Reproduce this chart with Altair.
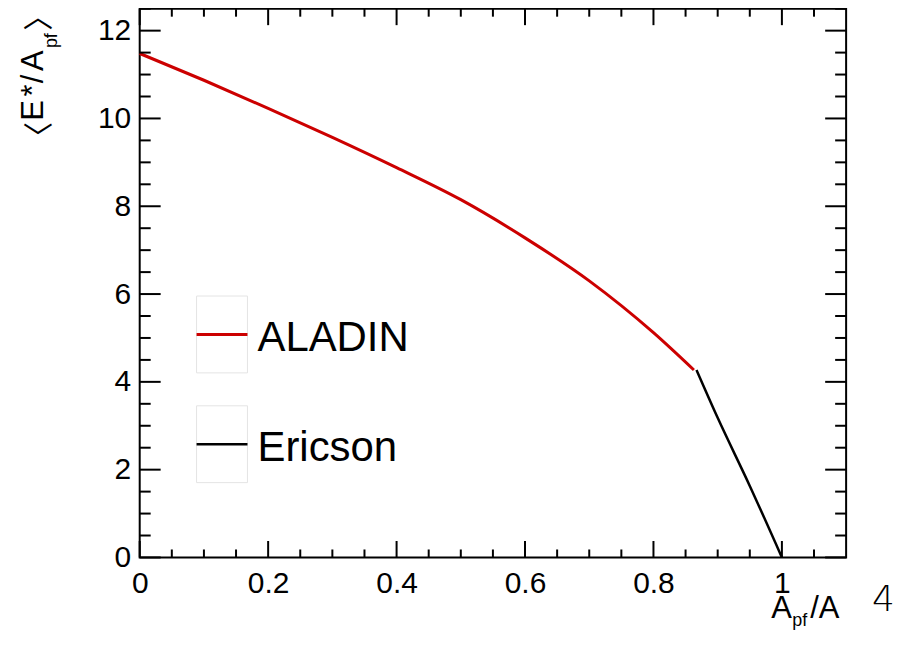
import altair as alt
import pandas as pd

# ---------------- data ----------------
aladin_x = [0.0, 0.1, 0.2, 0.3, 0.4, 0.5, 0.6, 0.7, 0.8, 0.863]
aladin_y = [11.48, 10.87, 10.23, 9.57, 8.88, 8.15, 7.28, 6.30, 5.12, 4.27]

ericson_x = [0.867, 0.9, 0.95, 1.0]
ericson_y = [4.27, 3.18, 1.63, 0.0]

x_major = [0.0, 0.2, 0.4, 0.6, 0.8, 1.0]
x_minor = [0.05, 0.1, 0.15, 0.25, 0.3, 0.35, 0.45, 0.5, 0.55, 0.65, 0.7, 0.75,
           0.85, 0.9, 0.95, 1.05]
y_major = [0, 2, 4, 6, 8, 10, 12]
y_minor = [0.5, 1, 1.5, 2.5, 3, 3.5, 4.5, 5, 5.5, 6.5, 7, 7.5, 8.5, 9, 9.5,
           10.5, 11, 11.5, 12.5]

series_names = ["ALADIN", "Ericson"]
series_colors = ["#cc0000", "#000000"]

# ---------------- layout ----------------
W, H = 708, 550
FONT = "Liberation Sans"

xscale = alt.Scale(domain=[0, 1.1], nice=False, zero=False)
yscale = alt.Scale(domain=[0, 12.5], nice=False, zero=False)

xaxis = alt.Axis(values=x_major, format="~g", title=None, ticks=False, domain=False,
                 grid=False, labelFont=FONT, labelFontSize=30, labelColor="black",
                 labelPadding=11, labelFlush=False)
yaxis = alt.Axis(values=y_major, format="~g", title=None, ticks=False, domain=False,
                 grid=False, labelFont=FONT, labelFontSize=30, labelColor="black",
                 labelPadding=9, labelFlush=False)

aladin_df = pd.DataFrame({"x": aladin_x, "y": aladin_y})
ericson_df = pd.DataFrame({"x": ericson_x, "y": ericson_y})

aladin = alt.Chart(aladin_df).mark_line(
    color=series_colors[0], strokeWidth=3, interpolate="monotone"
).encode(
    x=alt.X("x:Q", scale=xscale, axis=xaxis),
    y=alt.Y("y:Q", scale=yscale, axis=yaxis),
)

ericson = alt.Chart(ericson_df).mark_line(
    color=series_colors[1], strokeWidth=2.5, interpolate="monotone"
).encode(
    x=alt.X("x:Q", scale=xscale, axis=xaxis),
    y=alt.Y("y:Q", scale=yscale, axis=yaxis),
)

layers = [aladin, ericson]


def xticks(vals, length, top):
    c = alt.Chart(pd.DataFrame({"x": vals})).mark_rule(color="black", strokeWidth=2)
    if top:
        return c.encode(x=alt.X("x:Q", scale=xscale, axis=xaxis),
                        y=alt.value(0), y2=alt.value(length))
    return c.encode(x=alt.X("x:Q", scale=xscale, axis=xaxis),
                    y=alt.value(H), y2=alt.value(H - length))


def yticks(vals, length, right):
    c = alt.Chart(pd.DataFrame({"y": vals})).mark_rule(color="black", strokeWidth=2)
    if right:
        return c.encode(y=alt.Y("y:Q", scale=yscale, axis=yaxis),
                        x=alt.value(W), x2=alt.value(W - length))
    return c.encode(y=alt.Y("y:Q", scale=yscale, axis=yaxis),
                    x=alt.value(0), x2=alt.value(length))


for top in (False, True):
    layers.append(xticks(x_major, 16.5, top))
    layers.append(xticks(x_minor, 8, top))
for right in (False, True):
    layers.append(yticks(y_major, 21, right))
    layers.append(yticks(y_minor, 11, right))

one = pd.DataFrame({"a": [0]})


def txt(s, x, y, size, angle=0, align="left", font=FONT, weight="normal"):
    kw = dict(text=s, fontSize=size, font=font, align=align,
              baseline="alphabetic", color="black", fontWeight=weight)
    if angle:
        kw["angle"] = angle
    return alt.Chart(one).mark_text(**kw).encode(x=alt.value(x), y=alt.value(y))


# legend
box_y = [288, 398]
for i, (name, col) in enumerate(zip(series_names, series_colors)):
    y0 = box_y[i]
    layers.append(alt.Chart(one).mark_rect(
        fill="white", fillOpacity=0, stroke="#e4e4e4", strokeWidth=1
    ).encode(x=alt.value(57), x2=alt.value(108), y=alt.value(y0), y2=alt.value(y0 + 77)))
    layers.append(alt.Chart(one).mark_rule(
        color=col, strokeWidth=3 if i == 0 else 2.5
    ).encode(x=alt.value(57), x2=alt.value(108), y=alt.value(y0 + 38.5)))
    layers.append(txt(name, 118, y0 + 55, 42))

# y title pieces (rotated)
CJK = "Noto Sans CJK SC"
layers.append(txt("\u3008", -91, 128.5, 30, angle=270, align="center", font=CJK))
layers.append(txt("E", -97, 102, 31, angle=270, align="center"))
layers.append(txt("*", -97, 82, 31, angle=270, align="center"))
layers.append(txt("/", -97, 70.5, 31, angle=270, align="center"))
layers.append(txt("A", -97, 52, 31, angle=270, align="center"))
layers.append(txt("pf", -83, 32, 18, angle=270, align="center"))
layers.append(txt("\u3009", -91, 7, 30, angle=270, align="center", font=CJK))

# x title pieces
layers.append(txt("A", 633, 611, 31))
layers.append(txt("pf", 654, 619, 18))
layers.append(txt("/A", 672, 611, 31))
layers.append(txt("4", 734, 604, 36, font="DejaVu Sans", weight=200))

chart = alt.layer(*layers).properties(
    width=W, height=H,
    autosize=alt.AutoSizeParams(type="none"),
    padding={"left": 132, "top": 0, "right": 54, "bottom": 72},
    background="white",
).configure_view(stroke="black", strokeWidth=2)

chart.save("out.html", embed_options={"renderer": "svg", "actions": False})
